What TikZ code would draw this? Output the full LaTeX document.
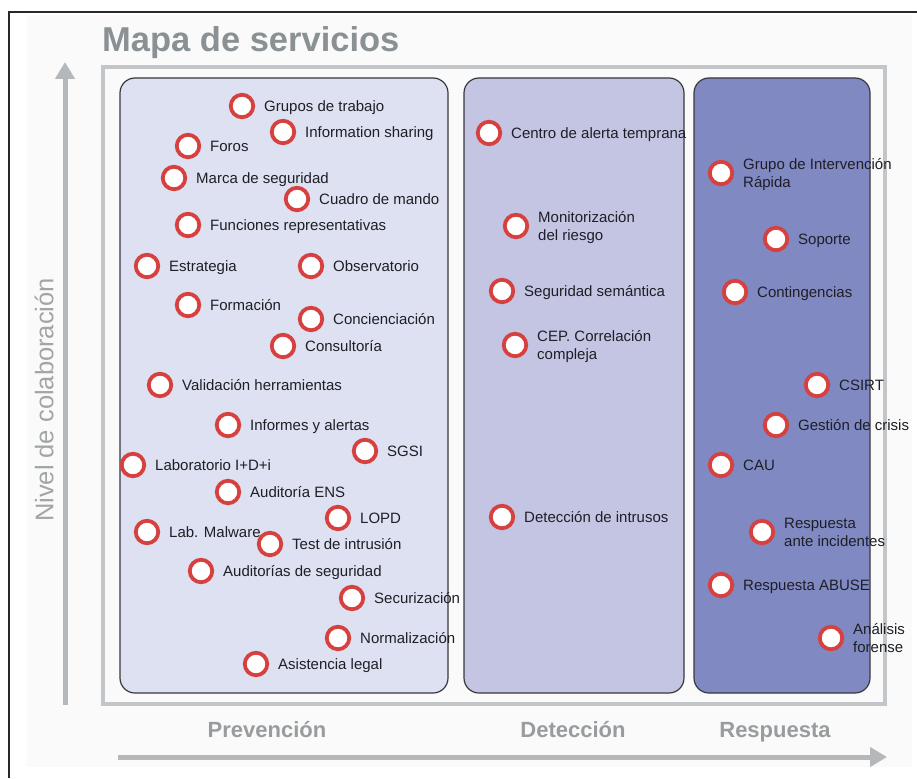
\documentclass[tikz,border=0pt]{standalone}
\usepackage{fontspec}
\setmainfont{Liberation Sans}
\usetikzlibrary{arrows.meta}

\definecolor{pagebg}{RGB}{250,250,250}
\definecolor{framedark}{RGB}{40,40,40}
\definecolor{titlegray}{RGB}{138,145,148}
\definecolor{axisgray}{RGB}{180,184,186}
\definecolor{boxgray}{RGB}{195,198,200}
\definecolor{panelline}{RGB}{55,57,62}
\definecolor{prevfill}{RGB}{222,225,241}
\definecolor{detfill}{RGB}{196,197,227}
\definecolor{respfill}{RGB}{128,137,194}
\definecolor{svcred}{RGB}{214,64,62}
\definecolor{labeltext}{RGB}{30,31,38}

% one service: red ring plus its label
\newcommand\svcitem[4]{%
  \node[svc] (#1) at (#2,#3) {};
  \node[svclabel] (#1-t) at ([xshift=22pt,yshift=-5.4pt]#1.center) {#4};}
% service whose label runs over two lines (base anchor sits on the last line)
\newcommand\svcitemtwo[4]{%
  \node[svc] (#1) at (#2,#3) {};
  \node[svclabel] (#1-t) at ([xshift=22pt,yshift=-14.4pt]#1.center) {#4};}

\begin{document}
\begin{tikzpicture}[x=1pt,y=-1pt,
  svc/.style={circle, draw=svcred, fill=white, line width=3.8pt,
    minimum size=22.5pt, inner sep=0pt},
  svclabel/.style={anchor=base west, inner sep=0pt, align=left,
    font=\fontsize{15}{18}\selectfont, text=labeltext},
  panel/.style={draw=panelline, line width=1.2pt, rounded corners=15pt},
  axis/.style={draw=axisgray, line width=5pt,
    -{Triangle[length=17pt,width=19pt]}},
  phase/.style={font=\fontsize{22}{26}\selectfont\bfseries,
    text=axisgray!85!black, anchor=base, inner sep=0pt}]
\useasboundingbox (0,0) rectangle (917,778);

% page background and frame
\fill[pagebg] (27,15) rectangle (912,767);
\draw[framedark, line width=1.5pt] (9,778) -- (9,12) -- (917,12);

% title
\node[anchor=base west, inner sep=0pt, text=titlegray,
  font=\fontsize{34.5}{40}\selectfont\bfseries] (title) at (102,52) {Mapa de servicios};

% outer box and the three phase panels
\draw[boxgray, line width=4pt] (103,67) rectangle (885,704);
\draw[panel, fill=prevfill] (120,78) rectangle (448,693);
\draw[panel, fill=detfill]  (464,78) rectangle (684,693);
\draw[panel, fill=respfill] (694,78) rectangle (870,693);

% axes
\coordinate (ybot) at (65,705);
\coordinate (ytop) at (65,62);
\coordinate (xleft) at (118,757);
\coordinate (xright) at (887,757);
\draw[axis] (ybot) -- (ytop);
\draw[axis] (xleft) -- (xright);
\node[rotate=90, text=axisgray!90!black, font=\fontsize{25.5}{30}\selectfont,
  inner sep=0pt] (ylabel) at (44,400) {Nivel de colaboración};

\node[phase] (prev) at (267,737) {Prevención};
\node[phase] (det)  at (573,737) {Detección};
\node[phase] (resp) at (775,737) {Respuesta};

% Prevención
\svcitem{grupos}{242}{106}{Grupos de trabajo}
\svcitem{info}{283}{132}{Information sharing}
\svcitem{foros}{188}{146}{Foros}
\svcitem{marca}{174}{178}{Marca de seguridad}
\svcitem{cuadro}{297}{199}{Cuadro de mando}
\svcitem{funciones}{188}{225}{Funciones representativas}
\svcitem{estrategia}{147}{266}{Estrategia}
\svcitem{observatorio}{311}{266}{Observatorio}
\svcitem{formacion}{188}{305}{Formación}
\svcitem{concienciacion}{311}{319}{Concienciación}
\svcitem{consultoria}{283}{346}{Consultoría}
\svcitem{validacion}{160}{385}{Validación herramientas}
\svcitem{informes}{228}{425}{Informes y alertas}
\svcitem{sgsi}{365}{451}{SGSI}
\svcitem{laboratorio}{133}{465}{Laboratorio I+D+i}
\svcitem{ens}{228}{492}{Auditoría ENS}
\svcitem{lopd}{338}{518}{LOPD}
\svcitem{malware}{147}{532}{Lab. Malware}
\svcitem{intrusion}{270}{544}{Test de intrusión}
\svcitem{auditorias}{201}{571}{Auditorías de seguridad}
\svcitem{securizacion}{352}{598}{Securización}
\svcitem{normalizacion}{338}{638}{Normalización}
\svcitem{asistencia}{256}{664}{Asistencia legal}

% Detección
\svcitem{alerta}{489}{133}{Centro de alerta temprana}
\svcitemtwo{monitor}{516}{226}{Monitorización\\del riesgo}
\svcitem{semantica}{502}{291}{Seguridad semántica}
\svcitemtwo{cep}{515}{345}{CEP. Correlación\\compleja}
\svcitem{ids}{502}{517}{Detección de intrusos}

% Respuesta
\svcitemtwo{gir}{721}{173}{Grupo de Intervención\\Rápida}
\svcitem{soporte}{776}{239}{Soporte}
\svcitem{contingencias}{735}{292}{Contingencias}
\svcitem{csirt}{817}{385}{CSIRT}
\svcitem{crisis}{776}{425}{Gestión de crisis}
\svcitem{cau}{721}{465}{CAU}
\svcitemtwo{incidentes}{762}{532}{Respuesta\\ante incidentes}
\svcitem{abuse}{721}{585}{Respuesta ABUSE}
\svcitemtwo{forense}{831}{638}{Análisis\\forense}
\end{tikzpicture}
\end{document}
